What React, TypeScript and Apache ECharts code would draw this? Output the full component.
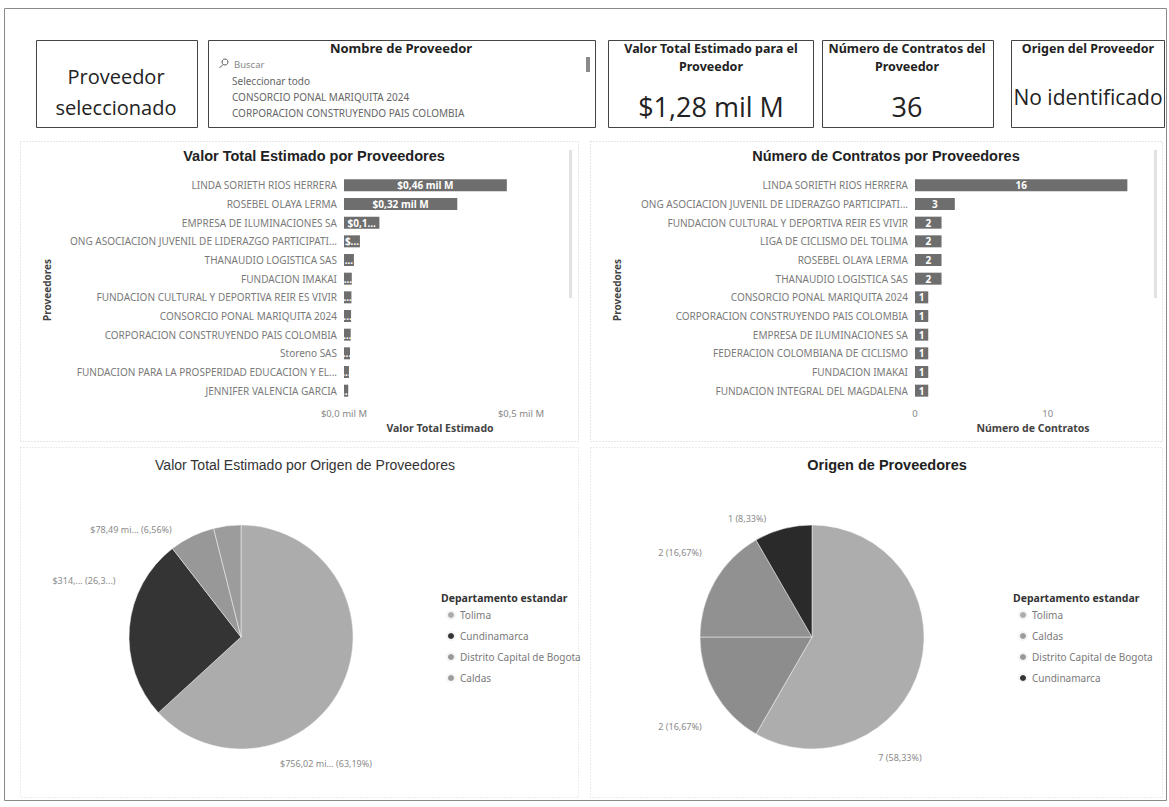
import React, { useEffect, useRef } from "react";
import * as echarts from "echarts";

// ---------- DATA ----------
const valorProveedores = [
  "LINDA SORIETH RIOS HERRERA",
  "ROSEBEL OLAYA LERMA",
  "EMPRESA DE ILUMINACIONES SA",
  "ONG ASOCIACION JUVENIL DE LIDERAZGO PARTICIPATI...",
  "THANAUDIO LOGISTICA SAS",
  "FUNDACION IMAKAI",
  "FUNDACION CULTURAL Y DEPORTIVA REIR ES VIVIR",
  "CONSORCIO PONAL MARIQUITA 2024",
  "CORPORACION CONSTRUYENDO PAIS COLOMBIA",
  "Storeno SAS",
  "FUNDACION PARA LA PROSPERIDAD EDUCACION Y EL...",
  "JENNIFER VALENCIA GARCIA",
];
// mil M
const valorTotal = [0.46, 0.32, 0.1, 0.045, 0.028, 0.022, 0.021, 0.02, 0.019, 0.017, 0.014, 0.012];

const contratosProveedores = [
  "LINDA SORIETH RIOS HERRERA",
  "ONG ASOCIACION JUVENIL DE LIDERAZGO PARTICIPATI...",
  "FUNDACION CULTURAL Y DEPORTIVA REIR ES VIVIR",
  "LIGA DE CICLISMO DEL TOLIMA",
  "ROSEBEL OLAYA LERMA",
  "THANAUDIO LOGISTICA SAS",
  "CONSORCIO PONAL MARIQUITA 2024",
  "CORPORACION CONSTRUYENDO PAIS COLOMBIA",
  "EMPRESA DE ILUMINACIONES SA",
  "FEDERACION COLOMBIANA DE CICLISMO",
  "FUNDACION IMAKAI",
  "FUNDACION INTEGRAL DEL MAGDALENA",
];
const numContratos = [16, 3, 2, 2, 2, 2, 1, 1, 1, 1, 1, 1];

const departamentosValor = ["Tolima", "Cundinamarca", "Distrito Capital de Bogota", "Caldas"];
const valorPorOrigen = [756.02, 314.9, 78.49, 47.02]; // millones

const departamentosConteo = ["Tolima", "Caldas", "Distrito Capital de Bogota", "Cundinamarca"];
const conteoPorOrigen = [7, 2, 2, 1];

const slicerItems = ["Seleccionar todo", "CONSORCIO PONAL MARIQUITA 2024", "CORPORACION CONSTRUYENDO PAIS COLOMBIA"];

// ---------- STYLE ----------
const SANS = "'Open Sans', 'Noto Sans', sans-serif";
const SMALL = "'Noto Sans', 'Open Sans', sans-serif";
const ARIAL = "'Liberation Sans', Arial, sans-serif";
const LEFT_MAX = 0.5;
const LEFT_W = 177;
const RIGHT_MAX = 16.5;
const RIGHT_W = 219;
const BAR_COLOR = "#6e6e6e";
const leftPieColors: Record<string, string> = {
  Tolima: "#acacac",
  Cundinamarca: "#343434",
  "Distrito Capital de Bogota": "#989898",
  Caldas: "#9c9c9c",
};
const rightPieColors: Record<string, string> = {
  Tolima: "#adadad",
  Caldas: "#8d8d8d",
  "Distrito Capital de Bogota": "#919191",
  Cundinamarca: "#2a2a2a",
};
const leftLabelPos: Record<string, number[]> = {
  Tolima: [326, 763],
  Cundinamarca: [84, 580],
  "Distrito Capital de Bogota": [131, 529],
};
const rightLabelPos: Record<string, number[]> = {
  Tolima: [900, 757],
  Caldas: [680, 726],
  "Distrito Capital de Bogota": [680, 552],
  Cundinamarca: [747, 518],
};

const comma = (v: number, d: number) => v.toFixed(d).replace(".", ",");

function rect(x: number, y: number, w: number, h: number, stroke: string, dash?: number[]) {
  return {
    type: "rect",
    silent: true,
    shape: { x: x + 0.5, y: y + 0.5, width: w, height: h },
    style: { fill: "none", stroke, lineWidth: 1, lineDash: dash },
  };
}
function txt(x: number, y: number, text: string, font: string, fill = "#222", align = "center", rotation = 0) {
  return {
    type: "text",
    silent: true,
    x,
    y,
    rotation,
    style: { text, font, fill, align, verticalAlign: "middle" },
  };
}

export default function App() {
  const ref = useRef<HTMLDivElement>(null);

  useEffect(() => {
    if (!ref.current) return;
    const chart = echarts.init(ref.current, undefined, { renderer: "svg" });

    const graphics: any[] = [
      rect(4, 8, 1162, 792, "#8a8a8a"),
      // panels
      rect(20, 141, 558, 300, "#cfcfcf", [1, 2]),
      rect(590, 141, 572, 300, "#cfcfcf", [1, 2]),
      rect(20, 447, 558, 350, "#d8d8d8", [1, 2]),
      rect(590, 447, 572, 350, "#d8d8d8", [1, 2]),
      { type: "rect", silent: true, shape: { x: 569, y: 150, width: 3, height: 148 }, style: { fill: "#e2e2e2" } },
      { type: "rect", silent: true, shape: { x: 1154, y: 150, width: 3, height: 148 }, style: { fill: "#e2e2e2" } },
      // card 1
      rect(36, 40, 161, 87, "#444"),
      txt(116, 76, "Proveedor", `20px ${SANS}`, "#222"),
      txt(116, 107, "seleccionado", `20px ${SANS}`, "#222"),
      // slicer
      rect(208, 40, 387, 87, "#444"),
      txt(401, 48, "Nombre de Proveedor", `bold 13px ${SMALL}`, "#222"),
      { type: "circle", silent: true, shape: { cx: 225, cy: 62, r: 3 }, style: { fill: "none", stroke: "#555", lineWidth: 1 } },
      { type: "line", silent: true, shape: { x1: 223, y1: 64.5, x2: 219.5, y2: 68 }, style: { stroke: "#555", lineWidth: 1 } },
      txt(234, 64, "Buscar", `9.5px ${SMALL}`, "#888", "left"),
      ...slicerItems.map((s, i) => txt(232, 81 + i * 16, s, `10px ${SMALL}`, "#666", "left")),
      { type: "rect", silent: true, shape: { x: 586, y: 57, width: 4, height: 15 }, style: { fill: "#8a8a8a" } },
      // card 2
      rect(608, 40, 205, 87, "#444"),
      txt(711, 48, "Valor Total Estimado para el", `bold 12.5px ${SMALL}`, "#222"),
      txt(711, 66, "Proveedor", `bold 12.5px ${SMALL}`, "#222"),
      txt(711, 106, "$1,28 mil M", `27px ${SANS}`, "#222"),
      // card 3
      rect(822, 40, 171, 87, "#444"),
      txt(907, 48, "Número de Contratos del", `bold 12.5px ${SMALL}`, "#222"),
      txt(907, 66, "Proveedor", `bold 12.5px ${SMALL}`, "#222"),
      txt(907, 106, "36", `27px ${SANS}`, "#222"),
      // card 4
      rect(1011, 40, 153, 87, "#444"),
      txt(1088, 48, "Origen del Proveedor", `bold 12.5px ${SMALL}`, "#222"),
      txt(1088, 97, "No identificado", `21px ${SANS}`, "#222"),
      // chart titles
      txt(314, 156, "Valor Total Estimado por Proveedores", `bold 14.5px ${ARIAL}`, "#222"),
      txt(886, 156, "Número de Contratos por Proveedores", `bold 14.5px ${ARIAL}`, "#222"),
      txt(305, 465, "Valor Total Estimado por Origen de Proveedores", `14px ${ARIAL}`, "#333"),
      txt(887, 465, "Origen de Proveedores", `bold 14.5px ${ARIAL}`, "#222"),
      // axis titles
      txt(47, 290, "Proveedores", `bold 10px ${SMALL}`, "#444", "center", Math.PI / 2),
      txt(617, 290, "Proveedores", `bold 10px ${SMALL}`, "#444", "center", Math.PI / 2),
      txt(440, 428, "Valor Total Estimado", `bold 10.5px ${SMALL}`, "#444"),
      txt(1033, 428, "Número de Contratos", `bold 10.5px ${SMALL}`, "#444"),
      // legend titles
      txt(441, 598, "Departamento estandar", `bold 10.5px ${SMALL}`, "#333", "left"),
      txt(1013, 598, "Departamento estandar", `bold 10.5px ${SMALL}`, "#333", "left"),
    ];

    const catAxis = (gridIndex: number, data: string[]) => ({
      gridIndex,
      type: "category",
      inverse: true,
      data,
      axisLine: { show: false },
      axisTick: { show: false },
      axisLabel: { fontSize: 10, color: "#7a7a7a", margin: 7, fontFamily: SMALL },
    });

    const leftLabel = (p: any) => {
      const v = p.value as number;
      const px = (v / LEFT_MAX) * LEFT_W;
      const full = `$${comma(v, 2)} mil M`;
      const n = Math.floor((px - 6) / 6);
      if (n >= full.length) return full;
      if (n >= 1) return full.slice(0, n) + "...";
      return "...";
    };

    const legendBase = {
      orient: "vertical",
      top: 605,
      itemWidth: 8,
      itemHeight: 8,
      itemGap: 11,
      icon: "circle",
      selectedMode: false,
      textStyle: { fontSize: 10, color: "#7a7a7a", fontFamily: SMALL },
    };

    const option: any = {
      animation: false,
      backgroundColor: "#ffffff",
      textStyle: { fontFamily: SMALL },
      grid: [
        { left: 344, top: 176, width: LEFT_W, height: 224 },
        { left: 915, top: 176, width: RIGHT_W, height: 224 },
      ],
      xAxis: [
        {
          gridIndex: 0,
          type: "value",
          min: 0,
          max: LEFT_MAX,
          interval: 0.5,
          splitLine: { show: false },
          axisLine: { show: false },
          axisTick: { show: false },
          axisLabel: { color: "#888", fontSize: 9.5, fontFamily: SMALL, formatter: (v: number) => `$${comma(v, 1)} mil M` },
        },
        {
          gridIndex: 1,
          type: "value",
          min: 0,
          max: RIGHT_MAX,
          interval: 10,
          splitLine: { show: false },
          axisLine: { show: false },
          axisTick: { show: false },
          axisLabel: { color: "#888", fontSize: 9.5, fontFamily: SMALL, showMaxLabel: false },
        },
      ],
      yAxis: [catAxis(0, valorProveedores), catAxis(1, contratosProveedores)],
      legend: [
        { ...legendBase, data: departamentosValor, left: 441 },
        { ...legendBase, data: departamentosConteo, left: 1013 },
      ],
      series: [
        {
          type: "bar",
          xAxisIndex: 0,
          yAxisIndex: 0,
          data: valorTotal,
          barWidth: 12,
          itemStyle: { color: BAR_COLOR },
          label: { show: true, position: "inside", color: "#fff", fontWeight: "bold", fontSize: 10, fontFamily: SMALL, formatter: leftLabel },
        },
        {
          type: "bar",
          xAxisIndex: 1,
          yAxisIndex: 1,
          data: numContratos,
          barWidth: 12,
          itemStyle: { color: BAR_COLOR },
          label: { show: true, position: "inside", color: "#fff", fontWeight: "bold", fontSize: 10, fontFamily: SMALL },
        },
        {
          type: "pie",
          center: [241, 637],
          radius: 112,
          startAngle: 90,
          clockwise: true,
          avoidLabelOverlap: false,
          itemStyle: { borderColor: "#f4f4f4", borderWidth: 0.5 },
          data: departamentosValor.map((n, i) => ({
            name: n,
            value: valorPorOrigen[i],
            itemStyle: { color: leftPieColors[n] },
            label: leftLabelPos[n] ? undefined : { show: false },
          })),
          label: {
            color: "#8a8a8a",
            fontSize: 9,
            fontFamily: SMALL,
            formatter: (p: any) => {
              const money = `$${comma(p.value, 2)}`;
              const pct = comma(p.percent, 2);
              if (p.name === "Cundinamarca") return `${money.slice(0, 5)}... (${pct.slice(0, 4)}...)`;
              return `${money} mi... (${pct}%)`;
            },
          },
          labelLine: { show: false },
          labelLayout: (params: any) => {
            const pos = leftLabelPos[departamentosValor[params.dataIndex]];
            if (!pos) return {};
            return { x: pos[0], y: pos[1], align: "center", verticalAlign: "middle" };
          },
        },
        {
          type: "pie",
          center: [812, 637],
          radius: 112,
          startAngle: 90,
          clockwise: true,
          avoidLabelOverlap: false,
          itemStyle: { borderColor: "#f4f4f4", borderWidth: 0.5 },
          data: departamentosConteo.map((n, i) => ({
            name: n,
            value: conteoPorOrigen[i],
            itemStyle: { color: rightPieColors[n] },
          })),
          label: {
            color: "#8a8a8a",
            fontSize: 9,
            fontFamily: SMALL,
            formatter: (p: any) => `${p.value} (${comma(p.percent, 2)}%)`,
          },
          labelLine: { show: false },
          labelLayout: (params: any) => {
            const pos = rightLabelPos[departamentosConteo[params.dataIndex]];
            if (!pos) return {};
            return { x: pos[0], y: pos[1], align: "center", verticalAlign: "middle" };
          },
        },
      ],
      graphic: { elements: graphics },
    };

    chart.setOption(option);
    return () => chart.dispose();
  }, []);

  return (
    <div
      ref={ref}
      style={{ position: "absolute", left: 0, top: 0, width: 1169, height: 807, background: "#fff" }}
    />
  );
}
